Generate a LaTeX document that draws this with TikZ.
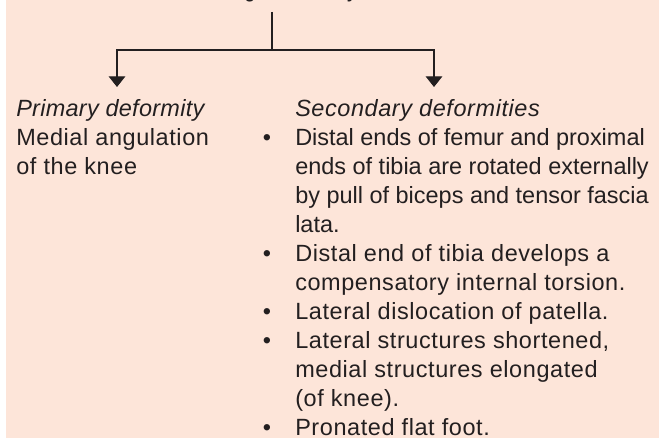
\documentclass[tikz,border=0pt]{standalone}
\usepackage{fontspec}
\setmainfont{Liberation Sans}
\usetikzlibrary{arrows.meta}
\definecolor{peach}{RGB}{253,229,217}
\definecolor{ink}{RGB}{35,31,32}
\newcommand\widetrack{\addfontfeatures{LetterSpace=2.5}}
\tikzset{
  txt/.style={inner sep=0pt, anchor=base west, align=left, text=ink,
    font=\fontsize{17.6}{21.75}\selectfont},
  bul/.style={inner sep=0pt, anchor=base, text=ink,
    font=\fontsize{17.6}{21.75}\selectfont},
  link/.style={draw=ink, line width=0.8pt},
  arr/.style={link, -{Triangle[length=8pt,width=12.5pt]}}
}
\begin{document}
\begin{tikzpicture}[x=0.75pt,y=0.75pt]
  \useasboundingbox (0,0) rectangle (659,441);
  \clip (0,0) rectangle (659,441);
  \fill[peach] (6,3) rectangle (659,441);
  % heading (only its foot is left in the frame)
  \node[txt, anchor=base, font=\fontsize{12.5}{15}\selectfont\bfseries] (title) at (270,442.5) {Pathological anatomy};
  \coordinate (stemtop) at (272,429);
  \coordinate (split) at (272,391);
  \coordinate (ptip) at (117,354);
  \coordinate (stip) at (434,354);
  \draw[link] (stemtop) -- (split);
  \draw[arr] (split) -| (ptip);
  \draw[arr] (split) -| (stip);
  % left branch (base = last line)
  \node[txt] (primary) at (16,266) {{\itshape\addfontfeatures{LetterSpace=1.2}Primary deformity}\\
    {\widetrack Medial angulation}\\{\widetrack of the knee}};
  % right branch
  \node[txt] (second) at (295,324) {\itshape\widetrack Secondary deformities};
  \node[txt] (list) at (295,5) {Distal ends of femur and proximal\\
    ends of tibia are rotated externally\\
    by pull of biceps and tensor fascia\\
    lata.\\
    {\widetrack Distal end of tibia develops a}\\
    {\widetrack compensatory internal torsion.}\\
    {\widetrack Lateral dislocation of patella.}\\
    {\widetrack Lateral structures shortened,}\\
    {\widetrack medial structures elongated}\\
    {\widetrack (of knee).}\\
    {\widetrack Pronated flat foot.}};
  \foreach \yy/\nm in {295/a,179/b,121/c,92/d,5/e}
    \node[bul] (bul\nm) at (267,\yy) {\textbullet};
\end{tikzpicture}
\end{document}
